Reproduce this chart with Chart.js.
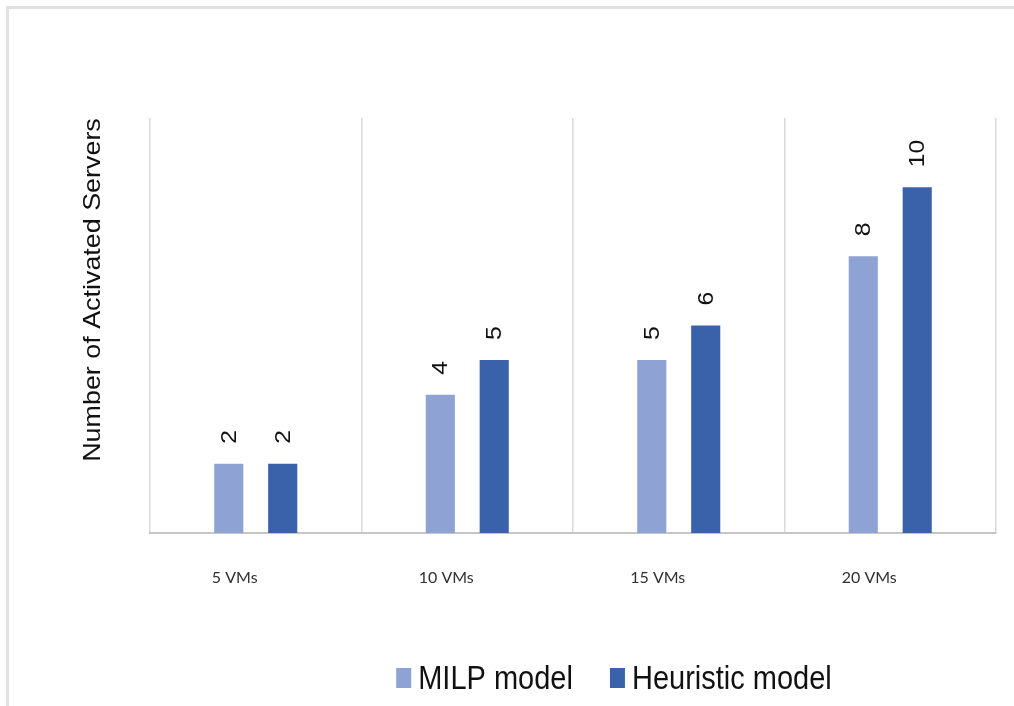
<!DOCTYPE html>
<html>
<head>
<meta charset="utf-8">
<script src="https://cdn.jsdelivr.net/npm/chart.js@4/dist/chart.umd.min.js"></script>
<style>
  html, body { margin: 0; padding: 0; background: #fff; }
  #wrap { position: relative; width: 1014px; height: 706px; overflow: hidden; }
  #frame { position: absolute; left: 6px; top: 6px; right: -10px; bottom: -10px;
           border-left: 3px solid #e2e2e2; border-top: 3px solid #e2e2e2; }
  #c { position: absolute; left: 0; top: 0; }
</style>
</head>
<body>
<div id="wrap">
  <div id="frame"></div>
  <canvas id="c" width="1014" height="706"></canvas>
</div>
<script>
// Chart data
const categories = ['5 VMs', '10 VMs', '15 VMs', '20 VMs'];
const milpValues = [2, 4, 5, 8];
const heuristicValues = [2, 5, 6, 10];
const seriesNames = ['MILP model', 'Heuristic model'];
const seriesColors = ['#8FA2D4', '#3A62AA'];
const yMax = 12;
const yTitle = 'Number of Activated Servers';

const TEXT_FONT = '"Liberation Sans", Arial, sans-serif';

// Rotated value labels above each bar
const valueLabels = {
  id: 'valueLabels',
  afterDatasetsDraw(chart) {
    const ctx = chart.ctx;
    chart.data.datasets.forEach((ds, di) => {
      const meta = chart.getDatasetMeta(di);
      meta.data.forEach((bar, i) => {
        ctx.save();
        ctx.translate(bar.x + 1, bar.y - 20);
        ctx.rotate(-Math.PI / 2);
        ctx.scale(1.12, 1);
        ctx.font = '22px ' + TEXT_FONT;
        ctx.fillStyle = '#111';
        ctx.textAlign = 'left';
        ctx.textBaseline = 'middle';
        ctx.fillText(String(ds.data[i]), 0, 0);
        ctx.restore();
      });
    });
  }
};

// Vertical axis title
const axisTitle = {
  id: 'axisTitle',
  afterDraw(chart) {
    const ctx = chart.ctx;
    ctx.save();
    ctx.translate(93, 290);
    ctx.rotate(-Math.PI / 2);
    ctx.scale(1.12, 1);
    ctx.font = '24px ' + TEXT_FONT;
    ctx.fillStyle = '#111';
    ctx.textAlign = 'center';
    ctx.textBaseline = 'middle';
    ctx.fillText(yTitle, 0, 0);
    ctx.restore();
  }
};

// Legend row below the axis
const bottomLegend = {
  id: 'bottomLegend',
  afterDraw(chart) {
    const ctx = chart.ctx;
    const boxW = 15, boxH = 20, boxGap = 7, itemGap = 37;
    const centerX = 614, baseline = 689, boxTop = 668;
    ctx.save();
    ctx.font = '29px ' + TEXT_FONT;
    const items = chart.data.datasets.map(ds => ({
      label: ds.label, color: ds.backgroundColor,
      w: ctx.measureText(ds.label).width
    }));
    let total = 0;
    items.forEach((it, k) => { total += boxW + boxGap + it.w + (k ? itemGap : 0); });
    let x = centerX - total / 2;
    items.forEach((it) => {
      ctx.fillStyle = it.color;
      ctx.fillRect(x, boxTop, boxW, boxH);
      x += boxW + boxGap;
      ctx.save();
      ctx.translate(x, baseline);
      ctx.scale(1, 1.16);
      ctx.fillStyle = '#111';
      ctx.textAlign = 'left';
      ctx.textBaseline = 'alphabetic';
      ctx.fillText(it.label, 0, 0);
      ctx.restore();
      x += it.w + itemGap;
    });
    ctx.restore();
  }
};

new Chart(document.getElementById('c'), {
  type: 'bar',
  data: {
    labels: categories,
    datasets: [
      { label: seriesNames[0], data: milpValues, backgroundColor: seriesColors[0] },
      { label: seriesNames[1], data: heuristicValues, backgroundColor: seriesColors[1] }
    ]
  },
  options: {
    responsive: false,
    animation: false,
    devicePixelRatio: 1,
    datasets: { bar: { categoryPercentage: 0.51, barPercentage: 0.54 } },
    layout: { padding: { left: 150, right: 18, top: 118, bottom: 0 } },
    plugins: { legend: { display: false }, tooltip: { enabled: false } },
    scales: {
      x: {
        offset: true,
        grid: { color: '#dadada', lineWidth: 1.5, drawTicks: false, offset: true },
        border: { color: '#c6c6c6', width: 2 },
        ticks: {
          font: { family: 'Lato', size: 16 },
          color: '#303030',
          padding: 35,
          labelOffset: -21
        },
        afterFit(scale) { scale.height = 173; }
      },
      y: { display: false, min: 0, max: yMax }
    }
  },
  plugins: [valueLabels, axisTitle, bottomLegend]
});
</script>
</body>
</html>
